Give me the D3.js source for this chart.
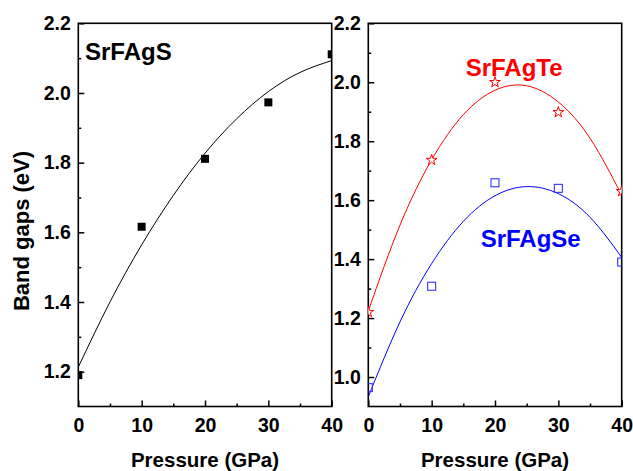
<!DOCTYPE html>
<html>
<head>
<meta charset="utf-8">
<script src="https://cdn.jsdelivr.net/npm/d3@7"></script>
<style>
  html, body { margin: 0; padding: 0; background: #fff; }
  svg { display: block; font-family: "Liberation Sans", Arial, sans-serif; }
  .tick text { font-weight: bold; font-size: 19.5px; fill: #000; }
</style>
</head>
<body>
<svg id="chart" width="633" height="471"></svg>
<script>
// ---- data ----
const pressures = [0, 10, 20, 30, 40];
const gapS  = [1.19, 1.616, 1.811, 1.973, 2.111];
const gapTe = [1.22, 1.736, 2.00, 1.898, 1.63];
const gapSe = [0.964, 1.308, 1.659, 1.64, 1.39];

// fitted curves
const fitX  = [0, 5, 10, 15, 20, 25, 30, 35, 40];
const fitS  = [1.213, 1.400, 1.564, 1.706, 1.827, 1.926, 2.004, 2.059, 2.093];
const fitTe = [1.224, 1.515, 1.737, 1.890, 1.973, 1.988, 1.933, 1.810, 1.617];
const fitSe = [0.933, 1.187, 1.385, 1.528, 1.615, 1.646, 1.622, 1.542, 1.406];

const xTicks = [0, 10, 20, 30, 40];
const xMinor = [5, 15, 25, 35];
const yTicksLeft  = [1.2, 1.4, 1.6, 1.8, 2.0, 2.2];
const yMinorLeft  = [1.3, 1.5, 1.7, 1.9, 2.1];
const yTicksRight = [1.0, 1.2, 1.4, 1.6, 1.8, 2.0, 2.2];
const yMinorRight = [1.1, 1.3, 1.5, 1.7, 1.9, 2.1];

const labelS = "SrFAgS", labelTe = "SrFAgTe", labelSe = "SrFAgSe";
const xTitle = "Pressure (GPa)", yTitle = "Band gaps (eV)";

// ---- layout ----
const svg = d3.select("#chart");
const plotTop = 23.3, plotBottom = 406.5;
const panels = [
  { id: "L", x0: 78.3, x1: 331.7, yDom: [1.1, 2.2], yTicks: yTicksLeft, yMinor: yMinorLeft },
  { id: "R", x0: 368.3, x1: 621.7, yDom: [0.9, 2.2], yTicks: yTicksRight, yMinor: yMinorRight }
];
panels.forEach(p => {
  p.x = d3.scaleLinear().domain([0, 40]).range([p.x0, p.x1]);
  p.y = d3.scaleLinear().domain(p.yDom).range([plotBottom, plotTop]);
});

const defs = svg.append("defs");
panels.forEach(p => {
  defs.append("clipPath").attr("id", "clip" + p.id)
    .append("rect").attr("x", p.x0).attr("y", plotTop)
    .attr("width", p.x1 - p.x0).attr("height", plotBottom - plotTop);
});

function drawAxes(p) {
  const gx = svg.append("g").attr("transform", `translate(0,${plotBottom})`)
    .call(d3.axisBottom(p.x).tickValues(xTicks).tickFormat(d3.format("d"))
      .tickSize(-6).tickSizeOuter(0).tickPadding(12));
  gx.select(".domain").remove();
  const gxm = svg.append("g").attr("transform", `translate(0,${plotBottom})`)
    .call(d3.axisBottom(p.x).tickValues(xMinor).tickFormat("").tickSize(-3).tickSizeOuter(0));
  gxm.select(".domain").remove();

  const gy = svg.append("g").attr("transform", `translate(${p.x0},0)`)
    .call(d3.axisLeft(p.y).tickValues(p.yTicks).tickFormat(d3.format(".1f"))
      .tickSize(-6).tickSizeOuter(0).tickPadding(7.5));
  gy.select(".domain").remove();
  const gym = svg.append("g").attr("transform", `translate(${p.x0},0)`)
    .call(d3.axisLeft(p.y).tickValues(p.yMinor).tickFormat("").tickSize(-3).tickSizeOuter(0));
  gym.select(".domain").remove();

  svg.selectAll(".tick line").attr("stroke", "#000").attr("stroke-width", 1.5);

  svg.append("rect").attr("x", p.x0).attr("y", plotTop)
    .attr("width", p.x1 - p.x0).attr("height", plotBottom - plotTop)
    .attr("fill", "none").attr("stroke", "#000").attr("stroke-width", 1.6);

  svg.append("text").attr("x", (p.x0 + p.x1) / 2).attr("y", 467)
    .attr("text-anchor", "middle").attr("font-weight", "bold")
    .attr("font-size", 20.5).text(xTitle);
}
panels.forEach(drawAxes);

const L = panels[0], R = panels[1];

// y title
svg.append("text").attr("transform", "translate(28.5,231) rotate(-90)")
  .attr("text-anchor", "middle").attr("font-weight", "bold")
  .attr("font-size", 22).text(yTitle);

function fitLine(p, ys, color) {
  const line = d3.line().x((d, i) => p.x(fitX[i])).y(d => p.y(d)).curve(d3.curveNatural);
  svg.append("path").attr("clip-path", `url(#clip${p.id})`)
    .attr("d", line(ys)).attr("fill", "none").attr("stroke", color).attr("stroke-width", 1);
}

// Left panel: SrFAgS
fitLine(L, fitS, "#000");
svg.append("g").attr("clip-path", "url(#clipL)")
  .selectAll("rect").data(gapS).join("rect")
  .attr("x", (d, i) => L.x(pressures[i]) - 4).attr("y", d => L.y(d) - 4)
  .attr("width", 8).attr("height", 8).attr("fill", "#000");
svg.append("text").attr("x", 85).attr("y", 60).attr("font-weight", "bold")
  .attr("font-size", 24).attr("fill", "#000").text(labelS);

// Right panel: SrFAgTe (red) and SrFAgSe (blue)
fitLine(R, fitTe, "#ff0000");
fitLine(R, fitSe, "#0000ff");
svg.append("g").attr("clip-path", "url(#clipR)")
  .selectAll("path").data(gapTe).join("path")
  .attr("transform", (d, i) => `translate(${R.x(pressures[i])},${R.y(d)})`)
  .attr("d", d3.symbol(d3.symbolStar, 36)())
  .attr("fill", "#fff").attr("stroke", "#ff0000").attr("stroke-width", 1);
svg.append("g").attr("clip-path", "url(#clipR)")
  .selectAll("rect").data(gapSe).join("rect")
  .attr("x", (d, i) => R.x(pressures[i]) - 4).attr("y", d => R.y(d) - 4)
  .attr("width", 8).attr("height", 8)
  .attr("fill", "none").attr("stroke", "#3333ff").attr("stroke-width", 1.1);
svg.append("text").attr("x", 465.7).attr("y", 76).attr("font-weight", "bold")
  .attr("font-size", 24).attr("fill", "#ff0000").text(labelTe);
svg.append("text").attr("x", 480.7).attr("y", 246.7).attr("font-weight", "bold")
  .attr("font-size", 24).attr("fill", "#0000ff").text(labelSe);
</script>
</body>
</html>
